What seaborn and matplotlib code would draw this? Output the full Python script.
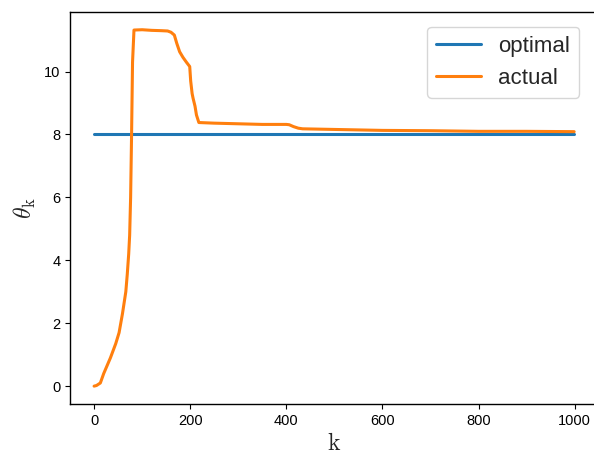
import matplotlib
matplotlib.use("Agg")
import matplotlib.pyplot as plt
import seaborn as sns

k_actual = [0, 5, 13, 20, 34, 45, 52, 59, 66, 69, 72, 74, 76, 78, 80, 83,
            100, 120, 140, 153, 160, 167, 172, 178, 185, 192, 199,
            201, 204, 206, 210, 213, 218,
            250, 300, 350, 400, 406, 415, 425, 434,
            500, 600, 700, 800, 900, 999]
theta_actual = [0, 0.02, 0.1, 0.4, 0.9, 1.35, 1.7, 2.3, 3.0, 3.55, 4.2, 4.8, 6.0, 8.0, 10.3, 11.32,
                11.33, 11.31, 11.30, 11.29, 11.25, 11.16, 10.9, 10.63, 10.45, 10.3, 10.16,
                9.7, 9.3, 9.15, 8.9, 8.62, 8.38,
                8.36, 8.34, 8.32, 8.32, 8.31, 8.25, 8.2, 8.18,
                8.16, 8.13, 8.12, 8.1, 8.1, 8.09]
k_optimal = [0, 999]
theta_optimal = [8, 8]

sns.set_style("ticks")
plt.rcParams['font.family'] = ['Liberation Sans', 'DejaVu Sans']
plt.rcParams['mathtext.fontset'] = 'cm'

fig, ax = plt.subplots(figsize=(5.94, 4.58), dpi=100)
fig.subplots_adjust(left=0.118, right=1.007, top=0.974, bottom=0.118)

sns.lineplot(x=k_optimal, y=theta_optimal, ax=ax, color='#1f77b4', lw=2.2, label='optimal')
sns.lineplot(x=k_actual, y=theta_actual, ax=ax, color='#ff7f0e', lw=2.2, label='actual')

ax.set_xlabel(r'$\mathrm{k}$', fontsize=17)
ax.set_ylabel(r'$\theta_{\mathrm{k}}$', fontsize=17)
ax.tick_params(labelsize=10.5, direction='out', length=3.5, width=0.8, colors='black')
ax.set_xticks([0, 200, 400, 600, 800, 1000])
ax.set_yticks([0, 2, 4, 6, 8, 10])
for s in ax.spines.values():
    s.set_visible(True)
    s.set_color('black')
    s.set_linewidth(1)
ax.legend(loc='upper right', fontsize=16, frameon=True, bbox_to_anchor=(0.985, 0.99))

fig.savefig('out.png', dpi=100)
